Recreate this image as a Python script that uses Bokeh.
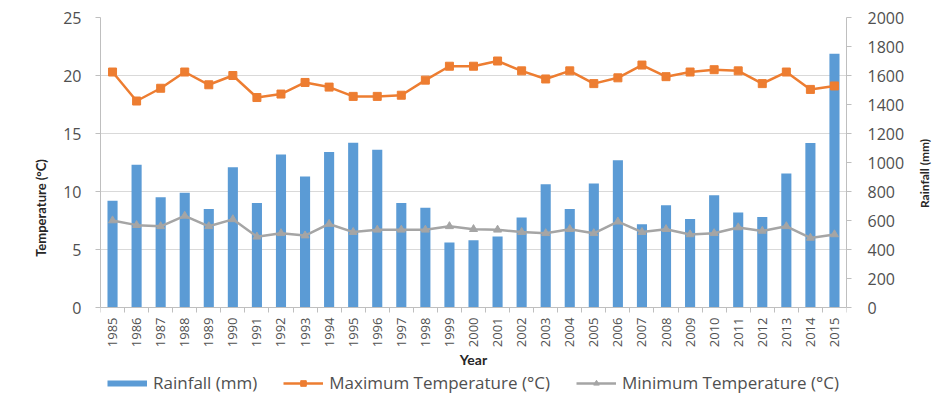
import math
from bokeh.plotting import figure
from bokeh.models import (Range1d, LinearAxis, FixedTicker, Legend, LegendItem,
                          ColumnDataSource)
from bokeh.embed import file_html
from bokeh.resources import INLINE

years = [1985, 1986, 1987, 1988, 1989, 1990, 1991, 1992, 1993, 1994, 1995,
         1996, 1997, 1998, 1999, 2000, 2001, 2002, 2003, 2004, 2005, 2006,
         2007, 2008, 2009, 2010, 2011, 2012, 2013, 2014, 2015]
rainfall = [736, 984, 760, 792, 680, 968, 720, 1056, 904, 1072, 1136,
            1088, 720, 688, 448, 464, 490, 620, 850, 680, 855, 1015,
            575, 705, 610, 775, 655, 625, 925, 1135, 1750]
max_temp = [20.3, 17.8, 18.9, 20.3, 19.2, 20.0, 18.1, 18.4, 19.4, 19.0, 18.2,
            18.2, 18.3, 19.6, 20.8, 20.8, 21.25, 20.4, 19.7, 20.4, 19.3, 19.8,
            20.9, 19.9, 20.3, 20.5, 20.4, 19.3, 20.3, 18.8, 19.1]
min_temp = [7.5, 7.1, 7.0, 7.9, 7.0, 7.6, 6.1, 6.4, 6.2, 7.2, 6.5,
            6.7, 6.7, 6.7, 7.0, 6.75, 6.7, 6.5, 6.4, 6.75, 6.4, 7.4,
            6.5, 6.75, 6.3, 6.4, 6.9, 6.6, 7.0, 6.0, 6.3]
temp_ticks = [0, 5, 10, 15, 20, 25]
rain_ticks = [0, 200, 400, 600, 800, 1000, 1200, 1400, 1600, 1800, 2000]

BLUE = "#5B9BD5"
ORANGE = "#ED7D31"
GRAY = "#A5A5A5"
AXIS = "#BFBFBF"
TICKTXT = "#505050"

# layout: the frame extends below the value axis so the x labels and the
# legend live inside it (x axis pinned at zero)
FIG_W, FIG_H = 942, 398
PX_TOP, PX_ZERO = 17, 307
t_max = temp_ticks[-1]
t_min = -t_max * (FIG_H - PX_ZERO) / (PX_ZERO - PX_TOP)
r_max = rain_ticks[-1]
r_min = t_min * r_max / t_max

src = ColumnDataSource(dict(year=years, rain=rainfall, tmax=max_temp, tmin=min_temp))

p = figure(width=FIG_W, height=FIG_H, output_backend="svg",
           toolbar_location=None, x_range=Range1d(years[0] - 0.5, years[-1] + 0.5),
           y_range=Range1d(t_min, t_max),
           min_border_left=100, min_border_right=80, min_border_top=PX_TOP,
           min_border_bottom=0)
p.extra_y_ranges = {"rain": Range1d(r_min, r_max)}
p.outline_line_color = None
p.background_fill_color = "white"
p.border_fill_color = "white"

bars = p.vbar(x="year", top="rain", width=0.42, y_range_name="rain", source=src,
              fill_color=BLUE, line_color=None)
l1 = p.line("year", "tmax", source=src, line_color=ORANGE, line_width=2.5)
s1 = p.scatter("year", "tmax", source=src, marker="square", size=8,
               fill_color=ORANGE, line_color=ORANGE)
l2 = p.line("year", "tmin", source=src, line_color=GRAY, line_width=2.5)
s2 = p.scatter("year", "tmin", source=src, marker="triangle", size=8,
               fill_color=GRAY, line_color=GRAY)
# hidden thick line used only as the legend swatch of the rainfall bars
rain_key = p.line("year", "rain", source=src, y_range_name="rain",
                  line_color=BLUE, line_width=6, line_cap="butt", visible=False)

# grid
p.xgrid.visible = False
p.ygrid.ticker = FixedTicker(ticks=temp_ticks)
p.ygrid.grid_line_color = "#D9D9D9"
p.ygrid.grid_line_width = 1

# x axis (pinned at temperature 0)
xa = p.xaxis[0]
xa.fixed_location = 0
xa.ticker = FixedTicker(ticks=years, minor_ticks=[y - 0.5 for y in years] + [years[-1] + 0.5])
xa.major_label_overrides = {y: str(y) for y in years}
xa.major_label_orientation = math.pi / 2
xa.major_tick_out = 0
xa.major_tick_in = 0
xa.minor_tick_out = 5
xa.minor_tick_in = 0
xa.minor_tick_line_color = AXIS
xa.axis_line_color = AXIS
xa.major_label_text_font = "Open Sans"
xa.major_label_text_font_size = "13px"
xa.major_label_text_color = TICKTXT
xa.major_label_standoff = 5
xa.axis_label = "Year"
xa.axis_label_text_font = "Lato"
xa.axis_label_text_font_style = "bold"
xa.axis_label_text_font_size = "14px"
xa.axis_label_text_color = "#262626"
xa.axis_label_standoff = 1

# left axis
ya = p.yaxis[0]
ya.bounds = (temp_ticks[0], temp_ticks[-1])
ya.ticker = FixedTicker(ticks=temp_ticks)
ya.axis_line_color = AXIS
ya.major_tick_line_color = AXIS
ya.major_tick_out = 5
ya.major_tick_in = 0
ya.minor_tick_line_color = None
ya.major_label_text_font = "Open Sans"
ya.major_label_text_font_size = "16px"
ya.major_label_text_color = TICKTXT
ya.major_label_standoff = 14
ya.axis_label = "Temperature (°C)"
ya.axis_label_text_font = "Lato"
ya.axis_label_text_font_style = "bold"
ya.axis_label_text_font_size = "13px"
ya.axis_label_text_color = "#262626"
ya.axis_label_standoff = 11

# right axis
ra = LinearAxis(y_range_name="rain", ticker=FixedTicker(ticks=rain_ticks))
ra.bounds = (rain_ticks[0], rain_ticks[-1])
ra.axis_line_color = AXIS
ra.major_tick_line_color = AXIS
ra.major_tick_out = 5
ra.major_tick_in = 0
ra.minor_tick_line_color = None
ra.major_label_text_font = "Open Sans"
ra.major_label_text_font_size = "16px"
ra.major_label_text_color = TICKTXT
ra.major_label_standoff = 16
ra.axis_label = "Rainfall (mm)"
ra.axis_label_text_font = "Lato"
ra.axis_label_text_font_style = "bold"
ra.axis_label_text_font_size = "12px"
ra.axis_label_text_color = "#262626"
ra.axis_label_standoff = 17
try:
    ra.axis_label_orientation = math.pi / 2
except Exception:
    pass
p.add_layout(ra, "right")

legend = Legend(items=[
    LegendItem(label="Rainfall (mm)", renderers=[rain_key]),
    LegendItem(label="Maximum Temperature (°C)", renderers=[l1, s1]),
    LegendItem(label="Minimum Temperature (°C)", renderers=[l2, s2]),
], orientation="horizontal", location="bottom_center")
legend.border_line_color = None
legend.background_fill_alpha = 0
legend.inactive_fill_alpha = 0
legend.label_text_font = "Open Sans"
legend.label_text_font_size = "17px"
legend.label_text_color = TICKTXT
legend.glyph_width = 40
legend.glyph_height = 14
legend.label_standoff = 6
legend.spacing = 26
legend.padding = 2
legend.margin = 4
p.add_layout(legend)

open("out.html", "w").write(file_html(p, INLINE))
